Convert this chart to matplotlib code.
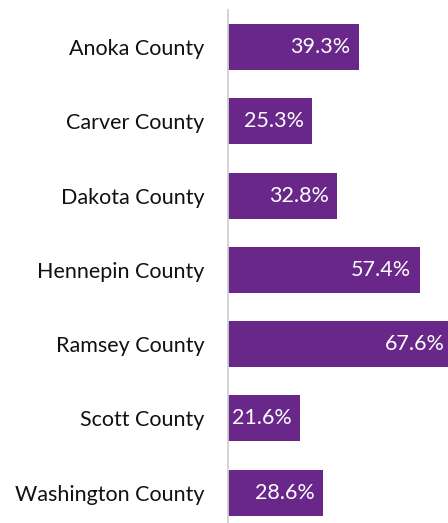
import matplotlib
matplotlib.use('Agg')
import matplotlib.pyplot as plt

counties = ['Anoka County', 'Carver County', 'Dakota County', 'Hennepin County',
            'Ramsey County', 'Scott County', 'Washington County']
values = [39.3, 25.3, 32.8, 57.4, 67.6, 21.6, 28.6]

plt.rcParams['font.family'] = ['Lato', 'DejaVu Sans']

fig = plt.figure(figsize=(4.48, 5.23), dpi=100)
ax = fig.add_axes([228 / 448, 0, 1 - 228 / 448, 1 - 10 / 523])

ypos = list(range(len(counties)))
bars = ax.barh(ypos, values, height=0.62, color='#692889')

# bar labels inside, right aligned
for y, v in zip(ypos, values):
    ax.text(v - 2.6, y, f'{v:.1f}%', ha='right', va='center',
            color='white', fontsize=15.5)

ax.set_yticks(ypos)
ax.set_yticklabels(counties, fontsize=15.5, color='#111111')
ax.tick_params(axis='y', length=0, pad=17)
ax.set_xticks([])
ax.set_xlim(0, 65.9)
ax.set_ylim(6.41, -0.5)

for s in ['top', 'right', 'bottom']:
    ax.spines[s].set_visible(False)
ax.spines['left'].set_color('#d0d0d0')
ax.spines['left'].set_linewidth(1.3)

fig.savefig('out.png', dpi=100)
